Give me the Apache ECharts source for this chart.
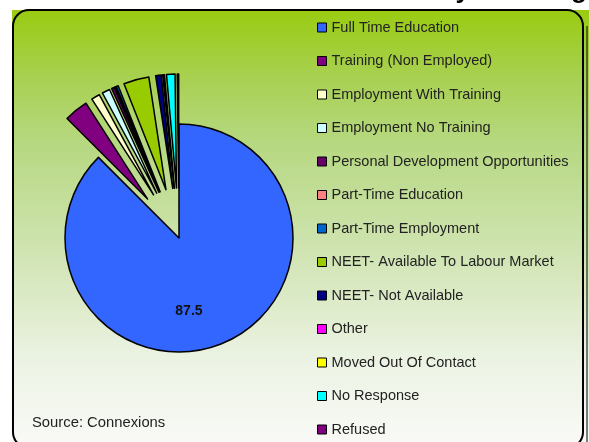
<!DOCTYPE html>
<html>
<head>
<meta charset="utf-8">
<script src="https://cdn.jsdelivr.net/npm/echarts@6/dist/echarts.min.js"></script>
<style>
  html, body { margin: 0; padding: 0; background: #fff; }
  #chart { width: 589px; height: 442px; }
</style>
</head>
<body>
<div id="chart"></div>
<script>
// categories and values (percent)
var categories = [
    'Full Time Education',
    'Training (Non Employed)',
    'Employment With Training',
    'Employment No Training',
    'Personal Development Opportunities',
    'Part-Time Education',
    'Part-Time Employment',
    'NEET- Available To Labour Market',
    'NEET- Not Available',
    'Other',
    'Moved Out Of Contact',
    'No Response',
    'Refused'
];
var values = [87.5, 3.4, 1.2, 1.1, 0.4, 0.1, 0.3, 3.6, 0.8, 0.1, 0.1, 1.2, 0.2];
var colors = ['#3366FF', '#800080', '#FFFFCC', '#CCFFFF', '#660066', '#FF8080',
              '#0066CC', '#99CC00', '#000080', '#FF00FF', '#FFFF00', '#00FFFF', '#800080'];

var chart = echarts.init(document.getElementById('chart'));

var pieData = categories.map(function (name, i) {
    return {
        name: name,
        value: values[i],
        selected: i > 0,   // small slices are pulled out
        itemStyle: { color: colors[i] },
        label: { show: i === 0 }
    };
});

var option = {
    animation: false,
    color: colors,
    graphic: [
        {
            type: 'rect', z: -10,
            shape: { x: 12, y: 10, width: 577, height: 440 },
            style: {
                fill: new echarts.graphic.LinearGradient(0, 0, 0, 1, [
                    { offset: 0, color: 'rgb(153,204,17)' },
                    { offset: 0.15, color: 'rgb(168,208,80)' },
                    { offset: 0.3, color: 'rgb(182,216,128)' },
                    { offset: 0.55, color: 'rgb(208,228,178)' },
                    { offset: 0.8, color: 'rgb(236,243,228)' },
                    { offset: 1, color: 'rgb(250,250,248)' }
                ])
            }
        },
        {
            type: 'rect', z: 20,
            shape: { x: 13, y: 10, width: 570, height: 438, r: 16 },
            style: { fill: null, stroke: '#000', lineWidth: 2 }
        },
        {
            type: 'line', z: 20,
            shape: { x1: 587, y1: 26, x2: 587, y2: 442 },
            style: { stroke: '#000', lineWidth: 1 }
        },
        {
            type: 'text', z: 20,
            style: {
                text: 'Destinations of Year 11 Leavers by Learning',
                x: 587, y: 4,
                align: 'right', verticalAlign: 'bottom',
                font: 'bold 26px "Liberation Sans", Arial, sans-serif',
                fill: '#000'
            }
        },
        {
            type: 'text', z: 20,
            style: {
                text: 'Source: Connexions',
                x: 32, y: 423,
                verticalAlign: 'middle',
                font: '14.8px "Liberation Sans", Arial, sans-serif',
                fill: '#222'
            }
        }
    ],
    legend: {
        orient: 'vertical',
        left: 317,
        top: 20,
        padding: 0,
        height: 432,
        data: categories,
        selectedMode: false,
        icon: 'rect',
        itemWidth: 9,
        itemHeight: 9,
        itemGap: 18.5,
        itemStyle: { borderColor: '#000', borderWidth: 1 },
        textStyle: {
            fontFamily: '"Liberation Sans", Arial, sans-serif',
            fontSize: 14.5,
            lineHeight: 15,
            color: '#222'
        }
    },
    series: [
        {
            type: 'pie',
            center: [179, 238],
            radius: 114,
            startAngle: 90,
            clockwise: true,
            selectedMode: 'multiple',
            selectedOffset: 50,
            avoidLabelOverlap: false,
            emphasis: { disabled: true },
            itemStyle: { borderColor: '#000', borderWidth: 1.5 },
            label: {
                position: 'inside',
                formatter: '{c}',
                offset: [-13, 18],
                fontFamily: '"Liberation Sans", Arial, sans-serif',
                fontSize: 14,
                fontWeight: 'bold',
                color: '#111'
            },
            labelLine: { show: false },
            data: pieData
        }
    ]
};

chart.setOption(option);
</script>
</body>
</html>
